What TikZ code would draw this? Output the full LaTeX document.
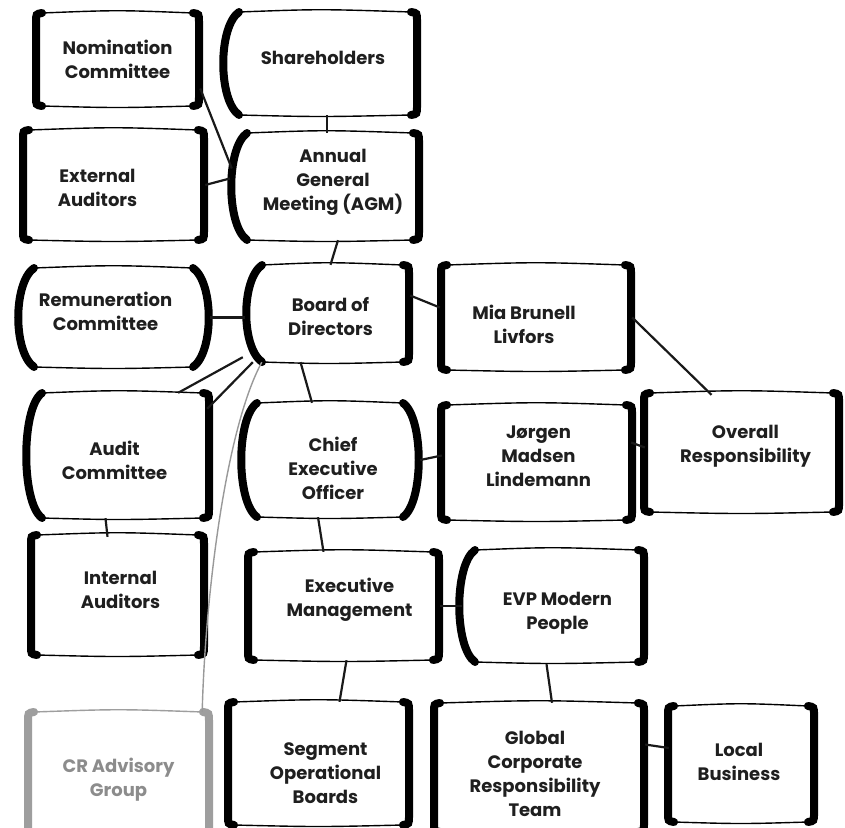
\documentclass[tikz,border=0pt]{standalone}
\usepackage{fontspec}
\setmainfont{Poppins}
\usetikzlibrary{calc}
\tikzset{
  skbox/.style={draw=none, inner sep=0pt},
  sktext/.style={align=center, font=\bfseries\fontsize{18}{24}\selectfont, text=\sktxt, inner sep=0pt},
  edge/.style={draw=\skcol, line width=1.4pt, line cap=round},
  side/.style={draw=\skcol, line width=8pt, line cap=round},
  link/.style={draw=black!90, line width=2.2pt},
  greylink/.style={draw=black!40, line width=1.4pt}
}
\newcommand\skcol{black}
\newcommand\sktxt{black!88}
% #1 name, #2 x1, #3 y1, #4 x2, #5 y2, #6 left type, #7 right type, #8 text, #9 text offset
\newcommand\skbox[9]{%
  \node[skbox, minimum width={(#4-#2)*1pt}, minimum height={(#5-#3)*1pt}] (#1) at ({(#2+#4)/2},{(#3+#5)/2}) {};
  \node[sktext] (#1-t) at ($(#1.center)+(#9)$) {#8};
  \if#6b \def\skl{7}\else\def\skl{17}\fi
  \if#7b \def\skr{7}\else\def\skr{17}\fi
  \draw[edge] ({#2+\skl},{#3}) .. controls ({(#2+#4)/2},{#3-3}) .. ({#4-\skr},{#3});
  \draw[edge] ({#2+\skl},{#5}) .. controls ({(#2+#4)/2},{#5+2}) .. ({#4-\skr},{#5});
  \if#6b \draw[side] ({#2+7},{#3}) .. controls ({#2+1},{#3+1}) .. ({#2+1},{#3+9}) -- ({#2+1},{#5-9}) .. controls ({#2+1},{#5-1}) .. ({#2+7},{#5});
  \else \draw[side] ({#2+17},{#3}) .. controls ({#2-4},{#3+15}) and ({#2-4},{#5-15}) .. ({#2+17},{#5});
  \fi
  \if#7b \draw[side] ({#4-7},{#3}) .. controls ({#4-1},{#3+1}) .. ({#4-1},{#3+9}) -- ({#4-1},{#5-9}) .. controls ({#4-1},{#5-1}) .. ({#4-7},{#5});
  \else \draw[side] ({#4-17},{#3}) .. controls ({#4+4},{#3+15}) and ({#4+4},{#5-15}) .. ({#4-17},{#5});
  \fi
}
\begin{document}
\begin{tikzpicture}[x=1pt,y=-1pt]
\useasboundingbox[fill=white] (0,0) rectangle (845,827);
% boxes
\skbox{nom}{35}{13}{200}{106}{b}{b}{Nomination\\Committee}{0,0}
\skbox{sh}{222}{12}{418}{115}{p}{b}{Shareholders}{3,-6}
\skbox{ext}{22}{130}{205}{240}{b}{b}{External\\Auditors}{-16,3}
\skbox{agm}{230}{133}{420}{240}{p}{b}{Annual\\General\\Meeting (AGM)}{8,-4}
\skbox{rem}{17}{268}{210}{367}{p}{p}{Remuneration\\Committee}{-8,-6}
\skbox{bod}{245}{265}{410}{362}{p}{b}{Board of\\Directors}{3,3}
\skbox{mia}{440}{265}{632}{370}{b}{b}{Mia Brunell\\Livfors}{-12,7}
\skbox{aud}{25}{393}{210}{518}{p}{b}{Audit\\Committee}{-3,5}
\skbox{ceo}{240}{403}{420}{517}{p}{p}{Chief\\Executive\\Officer}{3,8}
\skbox{jor}{440}{405}{633}{520}{b}{b}{Jørgen\\Madsen\\Lindemann}{2,-6}
\skbox{ovr}{643}{393}{840}{512}{b}{b}{Overall\\Responsibility}{4,-6}
\skbox{ina}{30}{535}{205}{655}{b}{b}{Internal\\Auditors}{3,-5}
\skbox{exm}{247}{552}{440}{660}{b}{b}{Executive\\Management}{6,-6}
\skbox{evp}{458}{550}{645}{662}{p}{b}{EVP Modern\\People}{6,7}
\skbox{seg}{227}{702}{410}{825}{b}{b}{Segment\\Operational\\Boards}{7,10}
\skbox{gcr}{433}{703}{645}{832}{b}{b}{Global\\Corporate\\Responsibility\\Team}{-4,6}
\skbox{loc}{667}{706}{815}{822}{b}{b}{Local\\Business}{-2,-2}
\begingroup
\renewcommand\skcol{black!38}\renewcommand\sktxt{black!45}
\skbox{cra}{27}{712}{210}{850}{b}{b}{CR Advisory\\Group}{0,-1}
\endgroup
% connectors
\draw[link] ($(nom.east)+(0,29)$) -- ($(agm.west)+(2,-18)$);
\draw[link] ($(sh.south)+(7,0)$) -- ($(agm.north)+(2,0)$);
\draw[link] (ext.east) -- ($(agm.west)+(0,-8)$);
\draw[link] ($(agm.south)+(13,0)$) -- ($(bod.north)+(3,0)$);
\draw[link] (rem.east) -- ($(bod.west)+(0,4)$);
\draw[link] ($(bod.south west)+(-2,-5)$) -- ($(aud.north east)+(-32,0)$);
\draw[link] ($(bod.south west)+(8,0)$) -- ($(aud.north east)+(-3,16)$);
\draw[link] ($(bod.south)+(-27,0)$) -- ($(ceo.north)+(-18,0)$);
\draw[link] ($(bod.east)+(0,-18)$) -- ($(mia.west)+(0,-10)$);
\draw[link] (mia.east) -- ($(ovr.north)+(-30,2)$);
\draw[link] (ceo.east) -- ($(jor.west)+(2,-7)$);
\draw[link] ($(jor.east)+(-2,-20)$) -- ($(ovr.west)+(2,-5)$);
\draw[link] ($(aud.south)+(-12,0)$) -- ($(ina.north)+(-10,2)$);
\draw[link] ($(ceo.south)+(-12,0)$) -- ($(exm.north)+(-20,0)$);
\draw[link] (exm.east) -- ($(evp.west)+(4,0)$);
\draw[link] ($(exm.south)+(3,0)$) -- ($(seg.north)+(21,0)$);
\draw[link] ($(evp.south)+(-5,2)$) -- ($(gcr.north)+(13,0)$);
\draw[link] ($(gcr.east)+(0,-23)$) -- ($(loc.west)+(2,-16)$);
\draw[greylink] ($(bod.south west)+(17,0)$) .. controls (225,430) and (205,600) .. ($(cra.north east)+(-8,0)$);
\end{tikzpicture}
\end{document}
